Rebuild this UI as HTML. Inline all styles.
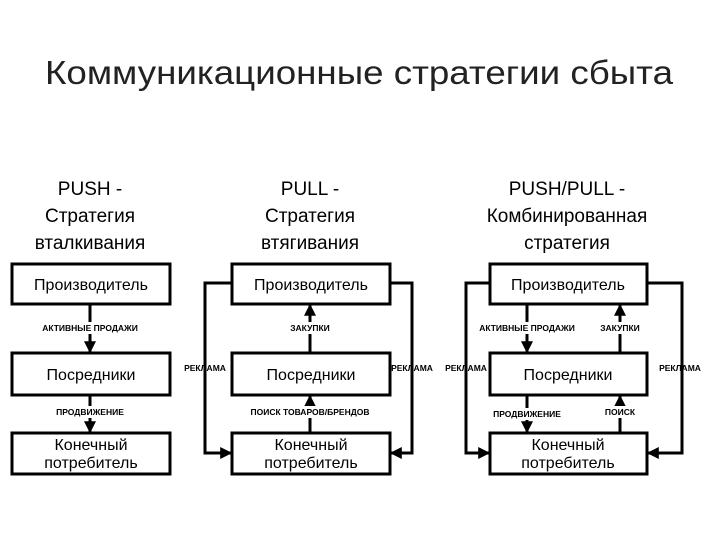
<!DOCTYPE html>
<html><head><meta charset="utf-8"><style>html,body{margin:0;padding:0;background:#fff}</style></head>
<body>
<svg width="720" height="540" viewBox="0 0 720 540" xmlns="http://www.w3.org/2000/svg" font-family="Liberation Sans, sans-serif">
<defs>
<marker id="a" viewBox="0 0 10 10" refX="9" refY="5" markerWidth="4" markerHeight="4" orient="auto"><path d="M0,0L10,5L0,10z" fill="#000"/></marker>
</defs>
<text x="45" y="84" font-size="33" fill="#222" textLength="628" lengthAdjust="spacingAndGlyphs">Коммуникационные стратегии сбыта</text>
<g font-size="19" text-anchor="middle" fill="#000">
<text x="90" y="195">PUSH -</text><text x="90" y="222">Стратегия</text><text x="90" y="249">вталкивания</text>
<text x="310" y="195">PULL -</text><text x="310" y="222">Стратегия</text><text x="310" y="249">втягивания</text>
<text x="567" y="195">PUSH/PULL -</text><text x="567" y="222">Комбинированная</text><text x="567" y="249">стратегия</text>
</g>
<g fill="#fff" stroke="#000" stroke-width="3">
<rect x="12" y="264" width="158" height="40"/><rect x="12" y="353" width="158" height="42"/><rect x="12" y="433" width="158" height="41"/>
<rect x="232" y="264" width="158" height="40"/><rect x="232" y="353" width="158" height="42"/><rect x="232" y="433" width="158" height="41"/>
<rect x="490" y="264" width="157" height="40"/><rect x="490" y="353" width="157" height="42"/><rect x="490" y="433" width="157" height="41"/>
</g>
<g font-size="16" text-anchor="middle" fill="#000">
<text x="91" y="290">Производитель</text><text x="91" y="380">Посредники</text><text x="91" y="450">Конечный</text><text x="91" y="468">потребитель</text>
<text x="311" y="290">Производитель</text><text x="311" y="380">Посредники</text><text x="311" y="450">Конечный</text><text x="311" y="468">потребитель</text>
<text x="568" y="290">Производитель</text><text x="568" y="380">Посредники</text><text x="568" y="450">Конечный</text><text x="568" y="468">потребитель</text>
</g>
<g stroke="#000" stroke-width="3" fill="none" marker-end="url(#a)">
<path d="M90,305V352"/><path d="M90,396V432"/>
<path d="M310,352V305"/><path d="M310,432V396"/>
<path d="M527,305V352"/><path d="M527,396V432"/>
<path d="M620,352V305"/><path d="M620,432V396"/>
<path d="M232,283H205V453H231"/><path d="M390,283H412V453H391"/>
<path d="M490,283H466V453H489"/><path d="M647,283H682V453H648"/>
</g>
<g font-size="8.5" font-weight="bold" fill="#000" text-anchor="middle">
<rect x="35" y="322" width="110" height="12" fill="#fff"/><text x="90" y="331">АКТИВНЫЕ ПРОДАЖИ</text>
<rect x="50" y="406" width="80" height="12" fill="#fff"/><text x="90" y="415">ПРОДВИЖЕНИЕ</text>
<rect x="285" y="322" width="50" height="12" fill="#fff"/><text x="310" y="331">ЗАКУПКИ</text>
<rect x="242" y="406" width="136" height="12" fill="#fff"/><text x="310" y="415">ПОИСК ТОВАРОВ/БРЕНДОВ</text>
<text x="205" y="371">РЕКЛАМА</text><text x="412" y="371">РЕКЛАМА</text>
<text x="466" y="371">РЕКЛАМА</text><text x="680" y="371">РЕКЛАМА</text>
<rect x="472" y="322" width="110" height="12" fill="#fff"/><text x="527" y="331">АКТИВНЫЕ ПРОДАЖИ</text>
<rect x="596" y="322" width="48" height="12" fill="#fff"/><text x="620" y="331">ЗАКУПКИ</text>
<rect x="487" y="408" width="80" height="12" fill="#fff"/><text x="527" y="417">ПРОДВИЖЕНИЕ</text>
<rect x="602" y="406" width="36" height="12" fill="#fff"/><text x="620" y="415">ПОИСК</text>
</g>
</svg>
</body></html>
